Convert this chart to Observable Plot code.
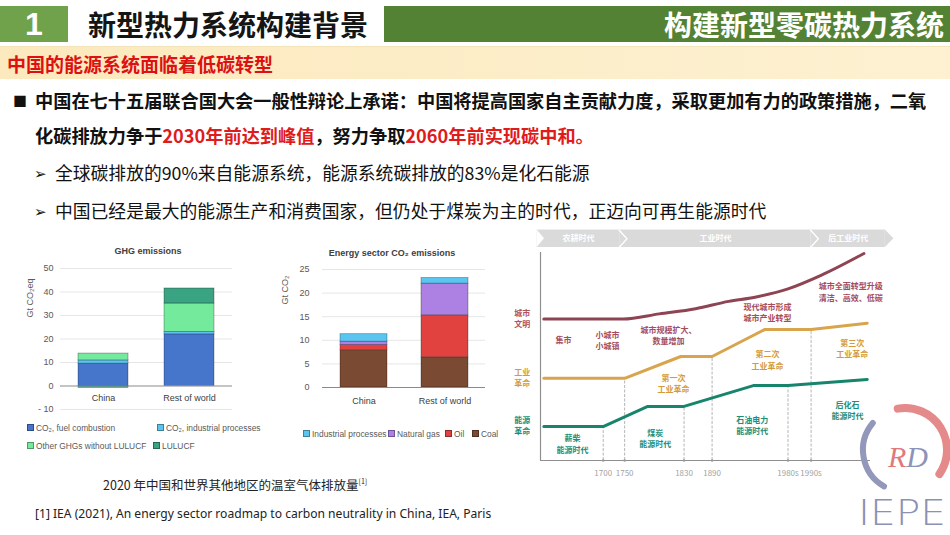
<!DOCTYPE html>
<html><head><meta charset="utf-8">
<script src="https://cdn.jsdelivr.net/npm/d3@7"></script>
<script src="https://cdn.jsdelivr.net/npm/@observablehq/plot@0.6"></script>
<style>
body{margin:0;width:950px;height:535px;position:relative;overflow:hidden;background:#fff;font-family:"Noto Sans CJK SC","Noto Sans",sans-serif;}
.a{position:absolute;white-space:nowrap;transform:translateY(-50%);}
.box{position:absolute;}
.en{font-family:"Liberation Sans","DejaVu Sans",sans-serif;}
.sw{display:inline-block;width:5px;height:5px;margin-right:2px;vertical-align:middle;position:relative;top:-1px;border:1px solid rgba(0,0,0,0.35);}
.red{color:#e01b1b;}
#ghg,#energy,#stages{position:absolute;}
#ghg{left:0;top:240px;} #energy{left:255px;top:240px;} #stages{left:510px;top:225px;}
</style></head><body>

<div class="box" style="left:0;top:6px;width:68px;height:36px;background:#6fa24a;color:#fff;font:bold 32px/36px 'Liberation Sans',sans-serif;text-align:center;">1</div>
<div class="a" style="left:88px;top:24px;font-size:28px;font-weight:bold;color:#151515;">新型热力系统构建背景</div>
<div class="box" style="left:384px;top:6px;width:566px;height:36px;background:#548235;"></div>
<div class="a" style="right:6px;top:24px;font-size:28px;font-weight:bold;color:#fff;">构建新型零碳热力系统</div>
<div class="box" style="left:0;top:46px;width:950px;height:32px;background:linear-gradient(90deg,#fce9bd,#fdf1d2);border-top:1px solid #f3e3b8;"></div>
<div class="a" style="left:7px;top:63px;font-size:19px;font-weight:bold;color:#dd1111;">中国的能源系统面临着低碳转型</div>

<div class="a" style="left:13px;top:100px;font-size:14px;color:#111;">■</div>
<div class="a" style="left:35px;top:100px;font-size:18.2px;font-weight:bold;color:#111;">中国在七十五届联合国大会一般性辩论上承诺：中国将提高国家自主贡献力度，采取更加有力的政策措施，二氧</div>
<div class="a" style="left:35px;top:135px;font-size:18.2px;font-weight:bold;color:#111;">化碳排放力争于<span class="red">2030年前达到峰值</span>，努力争取<span class="red">2060年前实现碳中和。</span></div>
<div class="a" style="left:34px;top:172px;font-size:15px;color:#111;">➢</div>
<div class="a" style="left:55px;top:172px;font-size:17.8px;color:#111;">全球碳排放的90%来自能源系统，能源系统碳排放的83%是化石能源</div>
<div class="a" style="left:34px;top:210px;font-size:15px;color:#111;">➢</div>
<div class="a" style="left:55px;top:210px;font-size:17.8px;color:#111;">中国已经是最大的能源生产和消费国家，但仍处于煤炭为主的时代，正迈向可再生能源时代</div>

<div id="ghg"></div>
<div id="energy"></div>
<div id="stages"></div>

<div class="a en" style="left:148px;top:251px;font-size:9px;font-weight:bold;color:#404040;transform:translate(-50%,-50%);">GHG emissions</div>
<div class="a en" style="left:30px;top:298px;font-size:9px;color:#595959;transform:translate(-50%,-50%) rotate(-90deg);">Gt CO₂eq</div>
<div class="a en" style="left:392px;top:253px;font-size:9px;font-weight:bold;color:#404040;transform:translate(-50%,-50%);">Energy sector CO₂ emissions</div>
<div class="a en" style="left:285px;top:290px;font-size:9px;color:#595959;transform:translate(-50%,-50%) rotate(-90deg);">Gt CO₂</div>
<div id="legends"></div>

<div class="a" style="left:103px;top:484px;font-size:12.5px;color:#222;">2020 年中国和世界其他地区的温室气体排放量<sup style="font-size:7px;">[1]</sup></div>
<div class="a" style="left:35px;top:513px;font-size:12.1px;color:#222;font-family:'Noto Sans',sans-serif;">[1] IEA (2021), An energy sector roadmap to carbon neutrality in China, IEA, Paris</div>

<svg class="box" style="left:830px;top:395px;" width="120" height="140">
  <path d="M 67.7 13.6 A 42 42 0 0 1 109.4 79.1" fill="none" stroke="#e58a8a" stroke-width="8" stroke-linecap="round"/>
  <path d="M 42.8 28 A 42 42 0 0 0 54 91.4" fill="none" stroke="#9398bb" stroke-width="6" stroke-linecap="round"/>
  <text x="78" y="72" text-anchor="middle" font-family="Liberation Serif,serif" font-style="italic" font-size="30"><tspan fill="#e07a7a">R</tspan><tspan fill="#8d93b8">D</tspan></text>
  <text x="28" y="130" font-family="'DejaVu Sans',sans-serif" font-weight="300" font-size="36" fill="#8c91b3" textLength="88" lengthAdjust="spacingAndGlyphs">IEPE</text>
</svg>

<script>
// ---------- data: left charts ----------
const categories = ["China", "Rest of world"];
const ghgSeries = ["CO₂, fuel combustion", "CO₂, industrial processes", "Other GHGs without LULUCF", "LULUCF"];
const ghgChina = [9.5, 1.4, 2.9, -0.8];
const ghgRest = [22.0, 1.0, 12.1, 6.4];
const ghgTicks = [-10, 0, 10, 20, 30, 40, 50];
const ghgColors = ["#4676cc", "#5cc3ec", "#74eb9c", "#3aa382"];

const energySeries = ["Coal", "Oil", "Natural gas", "Industrial processes"];
const energyChina = [7.9, 1.1, 0.7, 1.6];
const energyRest = [6.4, 8.9, 6.7, 1.2];
const energyTicks = [0, 5, 10, 15, 20, 25];
const energyColors = ["#7a4a33", "#e2423f", "#ad80e4", "#5cc5ef"];
const energyLegendOrder = ["Industrial processes", "Natural gas", "Oil", "Coal"];

// ---------- data: development stages chart ----------
const eraNames = ["农耕时代", "工业时代", "后工业时代"];
const eraStart = [-1, 24, 82];
const eraEnd = [24, 82, 104.5];
const tickYears = ["1700", "1750", "1830", "1890", "1980s", "1990s"];
const tickPos = [19, 25.5, 43.5, 52, 75, 82];
const tickTop = [16.3, 39.5, 26, 50, 36, 63];
const cityX = [1, 25, 36, 47, 57, 65, 75, 85, 98];
const cityY = [68, 68, 70.5, 73, 76.5, 78.5, 82.5, 89, 99.5];
const industryX = [1, 25.5, 42.5, 52, 68, 82, 99];
const industryY = [39.5, 39.5, 50, 50, 63, 63, 66];
const energyRevX = [1, 19, 32.5, 43.5, 64.5, 75, 99];
const energyRevY = [16.3, 16.3, 26, 26, 36, 36, 39];
const rowLabels = ["城市\n文明", "工业\n革命", "能源\n革命"];
const rowLevels = [68.5, 40, 17.3];
const cityText = ["集市", "小城市\n小城镇", "城市规模扩大、\n数量增加", "现代城市形成\n城市产业转型", "城市全面转型升级\n清洁、高效、低碳"];
const cityTextX = [7, 20.3, 38.8, 68.8, 94];
const cityTextY = [58, 58, 60.3, 71.6, 81.3];
const industryText = ["第一次\n工业革命", "第二次\n工业革命", "第三次\n工业革命"];
const industryTextX = [40.3, 68.8, 94.5];
const industryTextY = [37.3, 48.6, 54.1];
const energyText = ["薪柴\n能源时代", "煤炭\n能源时代", "石油电力\n能源时代", "后化石\n能源时代"];
const energyTextX = [9.7, 34.8, 64.2, 93];
const energyTextY = [8.2, 10.8, 17.3, 24.5];

const cityColor = "#8e4453", goldColor = "#d9a54c", greenColor = "#17846c";

// ---------- stacked bar helper ----------
function stacked(series, china, rest, colors, ticks, opts) {
  const data = categories.flatMap((c, i) => series.map((s, j) => ({cat: c, series: s, value: [china, rest][i][j]})));
  return Plot.plot({
    width: opts.width, height: opts.height,
    marginLeft: opts.ml, marginRight: opts.mr, marginTop: opts.mt, marginBottom: opts.mb,
    style: {background: "transparent", fontFamily: "Liberation Sans, Arial, sans-serif", fontSize: "9px", color: "#595959"},
    x: {domain: categories, paddingInner: 0.42, paddingOuter: 0.21, axis: null},
    y: {domain: [ticks[0], ticks[ticks.length - 1]], axis: null},
    color: {domain: series, range: colors},
    marks: [
      Plot.ruleY(ticks.filter(d => d !== 0), {stroke: "#e6e6e6", strokeWidth: 1}),
      Plot.axisY(ticks, {tickSize: 0, tickPadding: opts.pad, label: null, tickFormat: d => d < 0 ? "- " + (-d) : String(d), fill: "#595959"}),
      Plot.barY(data, {x: "cat", y: "value", fill: "series", stroke: "rgba(0,0,0,0.35)", strokeWidth: 0.8}),
      Plot.ruleY([0], {stroke: "#8a8a8a", strokeWidth: 1}),
      Plot.text(categories, {x: d => d, y: 0, dy: opts.labelDy, fill: "#404040", fontSize: 9})
    ]
  });
}

document.getElementById("ghg").append(stacked(ghgSeries, ghgChina, ghgRest, ghgColors, ghgTicks,
  {width: 255, height: 180, ml: 60, mr: 23, mt: 28, mb: 11, pad: 7, labelDy: 12}));
document.getElementById("energy").append(stacked(energySeries, energyChina, energyRest, energyColors, energyTicks,
  {width: 255, height: 175, ml: 67, mr: 25, mt: 29, mb: 28, pad: 13, labelDy: 14}));

// legends
const leg = document.getElementById("legends");
function legendItem(label, color, x, y) {
  const d = document.createElement("div");
  d.className = "a en";
  d.style.cssText = `left:${x}px;top:${y}px;font-size:8.4px;color:#595959;`;
  d.innerHTML = `<span class="sw" style="background:${color}"></span>${label}`;
  leg.append(d);
}
const ghgLegPos = [[27, 428], [157, 428], [27, 446], [153, 446]];
ghgSeries.forEach((s, i) => legendItem(s, ghgColors[i], ghgLegPos[i][0], ghgLegPos[i][1]));
const eLegX = [303, 388, 445, 472];
energyLegendOrder.forEach((s, i) => legendItem(s, energyColors[energySeries.indexOf(s)], eLegX[i], 434));

// ---------- development stages chart ----------
const eras = eraNames.map((n, i) => ({name: n, start: eraStart[i], end: eraEnd[i], mid: (eraStart[i] + eraEnd[i]) / 2}));
const bandLo = 102.4, bandHi = 110.8, bandMid = (bandLo + bandHi) / 2;
const lastEnd = eraEnd[eraEnd.length - 1];
const tipPts = [{x: lastEnd, y1: bandLo, y2: bandHi}, {x: lastEnd + 2.6, y1: bandMid, y2: bandMid}];
const notchPts = [{x: eraStart[0], y1: bandLo, y2: bandHi}, {x: eraStart[0] + 2.2, y1: bandMid, y2: bandMid}];
const chevrons = eraStart.slice(1).flatMap((b, k) => [
  {k, x: b - 0.2, y: bandHi}, {k, x: b + 2.2, y: bandMid}, {k, x: b - 0.2, y: bandLo}
]);
const ticksData = tickYears.map((t, i) => ({year: t, pos: tickPos[i], top: tickTop[i]}));
const pts = (xs, ys) => xs.map((x, i) => ({x, y: ys[i]}));
const lbl = (ts, xs, ys) => ts.map((t, i) => ({t, x: xs[i], y: ys[i]}));
const txt = {fontSize: 8, fontWeight: 600, lineHeight: 1.4, fontFamily: "Noto Sans CJK SC"};

document.getElementById("stages").append(Plot.plot({
  width: 440, height: 260, marginLeft: 30, marginRight: 80, marginTop: 27, marginBottom: 25,
  style: {background: "transparent", fontFamily: "Noto Sans CJK SC, sans-serif"},
  x: {domain: [0, 100], axis: null},
  y: {domain: [0, 100], axis: null},
  marks: [
    Plot.rect(eras, {x1: "start", x2: "end", y1: bandLo, y2: bandHi, fill: "#dadada"}),
    Plot.areaY(tipPts, {x: "x", y1: "y1", y2: "y2", fill: "#dadada"}),
    Plot.areaY(notchPts, {x: "x", y1: "y1", y2: "y2", fill: "#ffffff"}),
    Plot.line(chevrons, {x: "x", y: "y", z: "k", stroke: "#ffffff", strokeWidth: 1.3}),
    Plot.text(eras, {x: "mid", y: bandMid, text: "name", fill: "#ffffff", fontSize: 8, fontWeight: 600}),
    Plot.ruleX(ticksData, {x: "pos", y1: 0, y2: "top", stroke: "#b5b5b5", strokeWidth: 1, strokeDasharray: "3,1.5"}),
    Plot.ruleX([0], {y1: 0, y2: 100, stroke: "#8f8f8f", strokeWidth: 1.2}),
    Plot.ruleY([0], {x1: 0, x2: 100, stroke: "#8f8f8f", strokeWidth: 1.2}),
    Plot.dot(ticksData, {x: "pos", y: 0, r: 1.3, fill: "#9a9a9a"}),
    Plot.text(ticksData, {x: "pos", y: 0, dy: 13, text: "year", fill: "#a3a3a3", fontSize: 8}),
    Plot.line(pts(cityX, cityY), {x: "x", y: "y", stroke: cityColor, strokeWidth: 3, curve: "monotone-x"}),
    Plot.line(pts(industryX, industryY), {x: "x", y: "y", stroke: goldColor, strokeWidth: 3}),
    Plot.line(pts(energyRevX, energyRevY), {x: "x", y: "y", stroke: greenColor, strokeWidth: 3}),
    Plot.text([0], {x: -5.5, y: rowLevels[0], text: () => rowLabels[0], fill: "#b0525e", ...txt}),
    Plot.text([0], {x: -5.5, y: rowLevels[1], text: () => rowLabels[1], fill: "#d49b3c", ...txt}),
    Plot.text([0], {x: -5.5, y: rowLevels[2], text: () => rowLabels[2], fill: "#1d8e77", ...txt}),
    Plot.text(lbl(cityText, cityTextX, cityTextY), {x: "x", y: "y", text: "t", fill: "#a44d5c", ...txt}),
    Plot.text(lbl(industryText, industryTextX, industryTextY), {x: "x", y: "y", text: "t", fill: "#d49b3c", ...txt}),
    Plot.text(lbl(energyText, energyTextX, energyTextY), {x: "x", y: "y", text: "t", fill: "#1d8e77", ...txt})
  ]
}));
</script>
</body></html>
